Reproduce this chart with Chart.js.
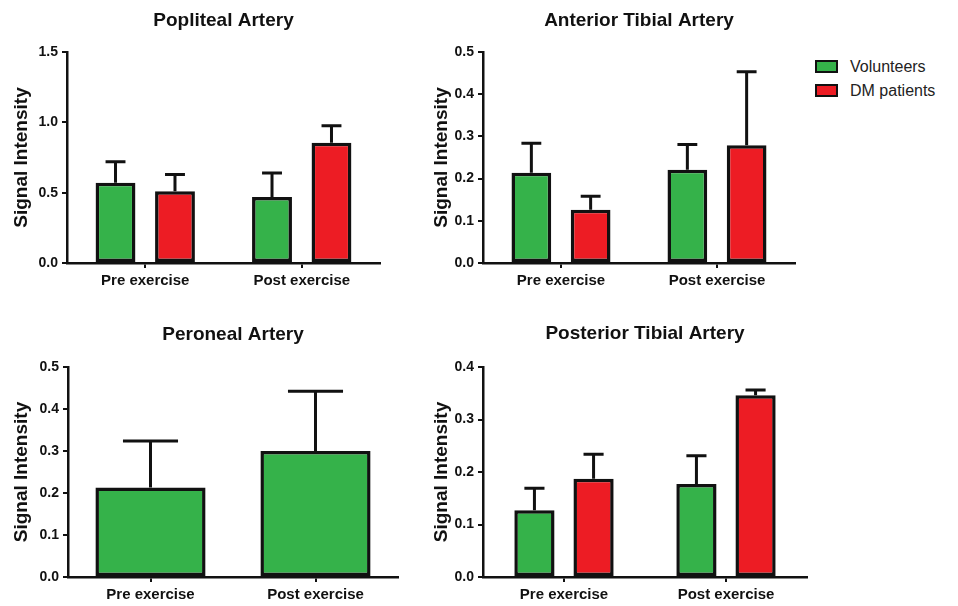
<!DOCTYPE html>
<html>
<head>
<meta charset="utf-8">
<script src="https://cdn.jsdelivr.net/npm/chart.js@4.4.1/dist/chart.umd.min.js"></script>
<style>
  body { margin: 0; background: #fff; width: 958px; height: 606px; position: relative; overflow: hidden; font-family: "Liberation Sans", Arial, sans-serif; }
  .panel { position: absolute; }
  #legend { position: absolute; left: 815px; top: 54.5px; }
  .item { display: flex; align-items: center; height: 24px; font-size: 16px; color: #222; }
  .swatch { width: 23px; height: 13px; box-sizing: border-box; border: 2.5px solid #111; margin-right: 12px; }
</style>
</head>
<body>
<div class="panel" style="left:0;top:0"><canvas id="popliteal" width="410" height="300"></canvas></div>
<div class="panel" style="left:420px;top:0"><canvas id="anterior" width="380" height="300"></canvas></div>
<div class="panel" style="left:0;top:310px"><canvas id="peroneal" width="410" height="296"></canvas></div>
<div class="panel" style="left:420px;top:310px"><canvas id="posterior" width="400" height="296"></canvas></div>
<div id="legend"></div>
<script>
const categories = ["Pre exercise", "Post exercise"];
const seriesNames = ["Volunteers", "DM patients"];
const seriesColors = ["#35b24a", "#ed1c24"];

// popliteal
const poplitealVol = [0.57, 0.47];
const poplitealVolErr = [0.15, 0.17];
const poplitealDm = [0.51, 0.855];
const poplitealDmErr = [0.12, 0.12];

// anterior tibial
const anteriorVol = [0.214, 0.221];
const anteriorVolErr = [0.07, 0.06];
const anteriorDm = [0.126, 0.279];
const anteriorDmErr = [0.032, 0.174];

// peroneal (volunteers only)
const peronealVol = [0.213, 0.3];
const peronealVolErr = [0.111, 0.142];

// posterior tibial
const posteriorVol = [0.127, 0.177];
const posteriorVolErr = [0.042, 0.054];
const posteriorDm = [0.187, 0.346];
const posteriorDmErr = [0.047, 0.01];

const ink = "#111";
const fam = "'Liberation Sans', Arial, sans-serif";

// upper error bar with cap, half the bar wide
const errorBars = {
  id: "errorBars",
  afterDatasetsDraw(chart) {
    const ctx = chart.ctx;
    const y = chart.scales.y;
    ctx.save();
    ctx.strokeStyle = ink;
    ctx.lineWidth = 3;
    chart.data.datasets.forEach((ds, i) => {
      chart.getDatasetMeta(i).data.forEach((bar, j) => {
        const top = y.getPixelForValue(ds.data[j] + ds.errors[j]);
        const half = bar.width / 4;
        ctx.beginPath();
        ctx.moveTo(bar.x, bar.y);
        ctx.lineTo(bar.x, top);
        ctx.moveTo(bar.x - half, top);
        ctx.lineTo(bar.x + half, top);
        ctx.stroke();
      });
    });
    ctx.restore();
  }
};

function series(k, data, errors, catPct, barPct) {
  return {
    label: seriesNames[k],
    data: data,
    errors: errors,
    backgroundColor: seriesColors[k],
    borderColor: ink,
    borderWidth: 3.5,
    borderSkipped: false,
    categoryPercentage: catPct,
    barPercentage: barPct
  };
}

function barChart(id, title, sets, yMax, step, lay) {
  return new Chart(document.getElementById(id), {
    type: "bar",
    data: { labels: categories, datasets: sets },
    options: {
      responsive: false,
      animation: false,
      events: [],
      layout: { padding: { left: 0, right: lay.right, top: 0, bottom: 0 } },
      plugins: {
        legend: { display: false },
        tooltip: { enabled: false },
        title: {
          display: true,
          text: title,
          fullSize: false,
          color: ink,
          font: { family: fam, size: 19, weight: "bold", lineHeight: 1.2 },
          padding: { top: lay.titleTop, bottom: lay.titleBottom }
        }
      },
      scales: {
        x: {
          grid: { offset: false, drawOnChartArea: false, tickLength: 5, lineWidth: 2, color: ink },
          border: { color: ink, width: 2.5 },
          ticks: { color: ink, font: { family: fam, size: 15, weight: "bold" }, padding: 4, maxRotation: 0 },
          afterFit: s => { s.height = lay.xHeight; }
        },
        y: {
          min: 0,
          max: yMax,
          ticks: {
            stepSize: step,
            color: ink,
            font: { family: fam, size: 14, weight: "bold" },
            padding: 4,
            callback: v => v.toFixed(1)
          },
          grid: { drawOnChartArea: false, tickLength: 5, lineWidth: 2, color: ink },
          border: { color: ink, width: 2.5 },
          title: {
            display: true,
            text: "Signal Intensity",
            color: ink,
            font: { family: fam, size: 19, weight: "bold", lineHeight: 1.2 },
            padding: { top: 10.5, bottom: 0 }
          },
          afterFit: s => { s.width = lay.yWidth; }
        }
      }
    },
    plugins: [errorBars]
  });
}

barChart("popliteal", "Popliteal Artery", [
  series(0, poplitealVol, poplitealVolErr, 0.76, 0.67),
  series(1, poplitealDm, poplitealDmErr, 0.76, 0.67)
], 1.5, 0.5, { right: 30, titleTop: 9, titleBottom: 20.2, xHeight: 37, yWidth: 67 });

const anterior = barChart("anterior", "Anterior Tibial Artery", [
  series(0, anteriorVol, anteriorVolErr, 0.76, 0.67),
  series(1, anteriorDm, anteriorDmErr, 0.76, 0.67)
], 0.5, 0.1, { right: 5, titleTop: 9, titleBottom: 20.2, xHeight: 37, yWidth: 63 });

barChart("peroneal", "Peroneal Artery", [
  series(0, peronealVol, peronealVolErr, 0.75, 0.89)
], 0.5, 0.1, { right: 12, titleTop: 13.6, titleBottom: 20.6, xHeight: 29, yWidth: 68 });

barChart("posterior", "Posterior Tibial Artery", [
  series(0, posteriorVol, posteriorVolErr, 0.73, 0.68),
  series(1, posteriorDm, posteriorDmErr, 0.73, 0.68)
], 0.4, 0.1, { right: 13, titleTop: 12.6, titleBottom: 21.6, xHeight: 29, yWidth: 63 });

// legend
const legend = document.getElementById("legend");
anterior.data.datasets.forEach(ds => {
  const row = document.createElement("div");
  row.className = "item";
  const sw = document.createElement("span");
  sw.className = "swatch";
  sw.style.background = ds.backgroundColor;
  row.appendChild(sw);
  row.appendChild(document.createTextNode(ds.label));
  legend.appendChild(row);
});
</script>
</body>
</html>
